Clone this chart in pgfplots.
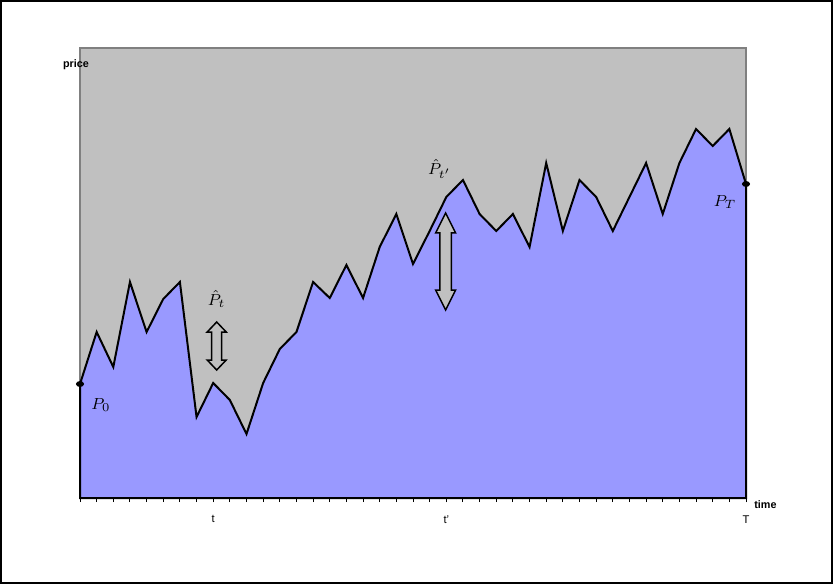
\documentclass[border=0pt]{standalone}
\usepackage{fontspec}
\setmainfont{Liberation Sans}
\usepackage{pgfplots}
\pgfplotsset{compat=1.18}

\definecolor{bggray}{HTML}{C0C0C0}
\definecolor{framegray}{HTML}{808080}
\definecolor{pblue}{HTML}{9999FF}

% one pixel of the 833x584 picture = 0.5pt
\begin{document}
\begin{tikzpicture}
\useasboundingbox (0,0) rectangle (416.5pt,292pt);
\draw[black, line width=1pt] (0.5pt,0.5pt) rectangle (416pt,291.5pt);

\begin{axis}[
    at={(40pt,43pt)}, anchor=south west,
    scale only axis,
    width=333pt, height=225pt,
    xmin=0, xmax=40, ymin=0, ymax=450,
    clip=false,
    axis background/.style={fill=bggray},
    axis line style={draw=framegray, line width=1pt},
    ytick=\empty,
    xtick={8,22,40},
    xticklabels={t,t',T},
    minor xtick={0,...,40},
    tick align=outside,
    major tick length=2pt,
    minor tick length=2pt,
    every tick/.style={black, line width=0.5pt},
    xtick pos=bottom,
    xticklabel style={font=\fontsize{5.6}{6}\selectfont, inner sep=1pt, yshift=-5.5pt},
  ]

  % price path
  \addplot[fill=pblue, draw=black, line width=1pt, line join=miter] coordinates {
    (0,114) (1,166) (2,131) (3,216) (4,166) (5,199) (6,216) (7,81)
    (8,115) (9,98) (10,64) (11,115) (12,149) (13,166) (14,216) (15,200)
    (16,233) (17,200) (18,251) (19,284) (20,234) (21,267) (22,301) (23,318)
    (24,284) (25,267) (26,284) (27,251) (28,335) (29,267) (30,318) (31,301)
    (32,267) (33,301) (34,335) (35,284) (36,335) (37,369) (38,352) (39,369)
    (40,314)
  } \closedcycle;

  % start and end points
  \addplot[only marks, mark=*, mark size=1.8pt, mark options={black, yscale=0.7}]
    coordinates {(0,114) (40,314)};

  % double arrows
  \draw[fill=bggray, draw=black, line width=0.75pt, line join=miter]
    (axis cs:8.21,176) -- ++(4.75pt,-5pt) -- ++(-2.25pt,0) -- ++(0,-14pt)
    -- ++(2.25pt,0) -- ++(-4.75pt,-5pt) -- ++(-4.75pt,5pt) -- ++(2.25pt,0)
    -- ++(0,14pt) -- ++(-2.25pt,0) -- cycle;
  \draw[fill=bggray, draw=black, line width=0.75pt, line join=miter]
    (axis cs:21.96,285) -- ++(5pt,-10pt) -- ++(-2.1pt,0) -- ++(0,-28.5pt)
    -- ++(2.1pt,0) -- ++(-5pt,-10pt) -- ++(-5pt,10pt) -- ++(2.1pt,0)
    -- ++(0,28.5pt) -- ++(-2.1pt,0) -- cycle;

  % labels
  \node[font=\fontsize{8}{9}\selectfont] at (axis cs:1.25,93) {$P_0$};
  \node[font=\fontsize{8}{9}\selectfont] at (axis cs:8.21,199) {$\hat{P}_t$};
  \node[font=\fontsize{8}{9}\selectfont] at (axis cs:21.6,329) {$\hat{P}_{t'}$};
  \node[font=\fontsize{8}{9}\selectfont] at (axis cs:38.75,296) {$P_T$};

  \node[font=\fontsize{5.4}{6}\selectfont\bfseries] at (axis cs:-0.24,433) {price};
  \node[font=\fontsize{5.4}{6}\selectfont\bfseries] at (axis cs:41.17,-7) {time};
\end{axis}
\end{tikzpicture}
\end{document}
